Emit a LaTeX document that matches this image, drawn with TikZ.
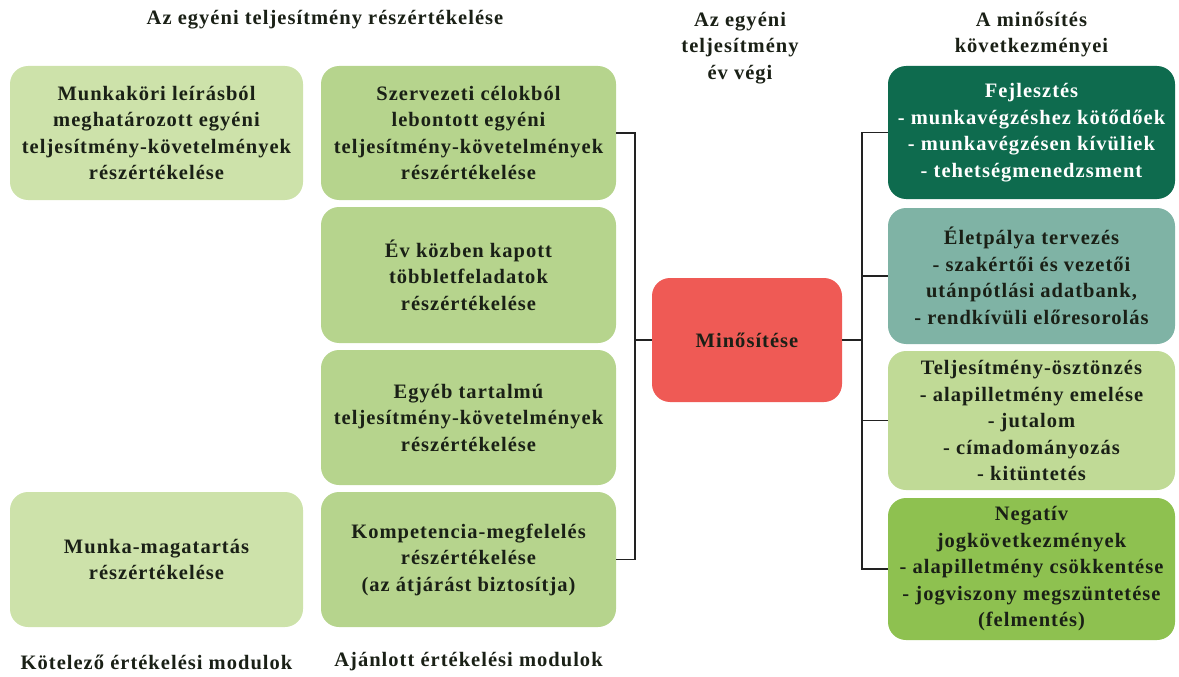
\documentclass[tikz,border=0pt]{standalone}
\usepackage{fontspec}
\newfontfamily\diafont{Liberation Serif}[LetterSpace=5]
\definecolor{ink}{HTML}{1A2016}
\definecolor{colL}{HTML}{CDE2AA}
\definecolor{colM}{HTML}{B6D48D}
\definecolor{colDev}{HTML}{0E6B4E}
\definecolor{colCar}{HTML}{7FB3A5}
\definecolor{colInc}{HTML}{C0DA96}
\definecolor{colNeg}{HTML}{8EC150}
\definecolor{colRed}{HTML}{EF5A55}
\definecolor{wire}{HTML}{222222}
\tikzset{
  txt/.style={align=center, inner sep=0pt, text=ink,
    font=\diafont\bfseries\fontsize{20.5}{26.5}\selectfont},
  box/.style={txt, rounded corners=18pt},
  leftbox/.style={box, fill=colL, minimum width=293pt},
  midbox/.style={box, fill=colM, minimum width=295pt},
  rightbox/.style={box, minimum width=287pt},
  wireline/.style={draw=wire, line width=1.8pt}
}
\begin{document}
\begin{tikzpicture}[x=1pt, y=-1pt]
\useasboundingbox (0,0) rectangle (1179,677);

% column headings
\node[txt] (h1) at (325,20) {Az egyéni teljesítmény részértékelése};
\node[txt] (h2) at (740,48) {Az egyéni\\teljesítmény\\év végi};
\node[txt] (h3) at (1031.5,34.5) {A minősítés\\következményei};

% mandatory modules
\node[leftbox, minimum height=134pt] (L1) at (156.5,133)
  {Munkaköri leírásból\\meghatározott egyéni\\teljesítmény-követelmények\\részértékelése};
\node[leftbox, minimum height=135pt] (L2) at (156.5,559.5)
  {Munka-magatartás\\részértékelése};

% recommended modules
\node[midbox, minimum height=134pt] (M1) at (468.5,133)
  {Szervezeti célokból\\lebontott egyéni\\teljesítmény-követelmények\\részértékelése};
\node[midbox, minimum height=136pt] (M2) at (468.5,275)
  {Év közben kapott\\többletfeladatok\\részértékelése};
\node[midbox, minimum height=135pt] (M3) at (468.5,417.5)
  {Egyéb tartalmú\\teljesítmény-követelmények\\részértékelése};
\node[midbox, minimum height=135pt] (M4) at (468.5,559.5)
  {Kompetencia-megfelelés\\részértékelése\\(az átjárást biztosítja)};

% overall rating
\node[box, fill=colRed, minimum width=190pt, minimum height=124pt] (Q) at (747,340)
  {Minősítése};

% consequences
\node[rightbox, fill=colDev, text=white, minimum height=133pt] (R1) at (1031.5,132.5)
  {Fejlesztés\\- munkavégzéshez kötődőek\\- munkavégzésen kívüliek\\- tehetségmenedzsment};
\node[rightbox, fill=colCar, minimum height=136pt] (R2) at (1031.5,276)
  {Életpálya tervezés\\- szakértői és vezetői\\utánpótlási adatbank,\\- rendkívüli előresorolás};
\node[rightbox, fill=colInc, minimum height=139pt] (R3) at (1031.5,420.5)
  {Teljesítmény-ösztönzés\\- alapilletmény emelése\\- jutalom\\- címadományozás\\- kitüntetés};
\node[rightbox, fill=colNeg, minimum height=142pt] (R4) at (1031.5,569)
  {Negatív\\jogkövetkezmények\\- alapilletmény csökkentése\\- jogviszony megszüntetése\\(felmentés)};

% footers
\node[txt] (f1) at (156.5,662) {Kötelező értékelési modulok};
\node[txt] (f2) at (468.5,662) {Ajánlott értékelési modulok};

% connectors
\coordinate (jl) at (635,340);
\coordinate (jr) at (862,340);
\draw[wireline] (M1.east) -| (jl) |- (M4.east);
\draw[wireline] (jl) -- (Q.west);
\draw[wireline] (Q.east) -- (jr);
\draw[wireline] (R1.west) -| (jr) |- (R4.west);
\draw[wireline] (jr |- R2.west) -- (R2.west);
\draw[wireline] (jr |- R3.west) -- (R3.west);
\end{tikzpicture}
\end{document}
